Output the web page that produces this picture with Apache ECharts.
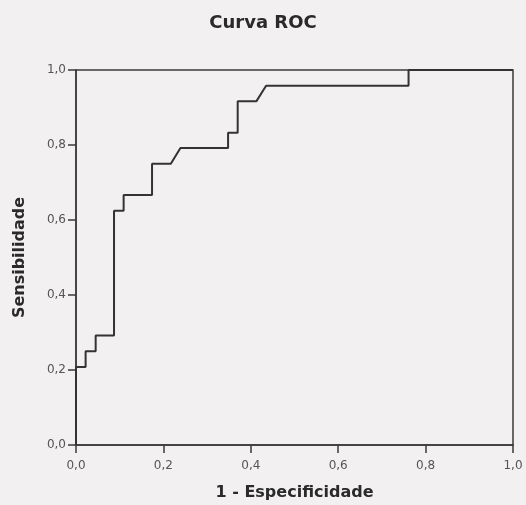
<!DOCTYPE html>
<html>
<head>
<meta charset="utf-8">
<script src="https://cdn.jsdelivr.net/npm/echarts@6/dist/echarts.min.js"></script>
<style>
html,body{margin:0;padding:0;background:#f3f0f1;}
#c{width:526px;height:505px;}
</style>
</head>
<body>
<div id="c"></div>
<script>
const titleText = 'Curva ROC';
const xName = '1 - Especificidade';
const yName = 'Sensibilidade';
const tickValues = [0, 0.2, 0.4, 0.6, 0.8, 1.0];
// ROC curve vertices (1 - specificity, sensitivity)
const fpr = [0, 0, 0.022, 0.022, 0.045, 0.045, 0.087, 0.087, 0.109, 0.109, 0.174, 0.174, 0.217, 0.239, 0.348, 0.348, 0.370, 0.370, 0.413, 0.435, 0.761, 0.761, 1.0];
const tpr = [0, 0.208, 0.208, 0.250, 0.250, 0.292, 0.292, 0.625, 0.625, 0.667, 0.667, 0.750, 0.750, 0.792, 0.792, 0.833, 0.833, 0.917, 0.917, 0.958, 0.958, 1.0, 1.0];

const data = fpr.map((x, i) => [x, tpr[i]]);
const fmt = v => v.toFixed(1).replace('.', ',');
const font = 'DejaVu Sans';

const chart = echarts.init(document.getElementById('c'));
chart.setOption({
  backgroundColor: '#f3f0f1',
  animation: false,
  title: {
    text: titleText,
    left: 'center',
    top: 9,
    textStyle: { fontFamily: font, fontSize: 18, fontWeight: 'bold', color: '#2a2a2a' }
  },
  grid: {
    left: 76, right: 13, top: 70, bottom: 60,
    outerBoundsMode: 'none',
    containLabel: false,
    show: true, borderColor: '#3a3a3a', borderWidth: 1.5, backgroundColor: 'transparent'
  },
  xAxis: {
    type: 'value', min: 0, max: 1, interval: 0.2,
    name: xName, nameLocation: 'middle', nameGap: 40,
    nameTextStyle: { fontFamily: font, fontSize: 16, fontWeight: 'bold', color: '#2a2a2a' },
    axisLine: { show: true, lineStyle: { color: '#3a3a3a', width: 1.5 } },
    axisTick: { show: true, length: 8, lineStyle: { color: '#3a3a3a', width: 1.5 } },
    axisLabel: { fontFamily: font, fontSize: 12, color: '#555', margin: 15, formatter: fmt },
    splitLine: { show: false }
  },
  yAxis: {
    type: 'value', min: 0, max: 1, interval: 0.2,
    name: yName, nameLocation: 'middle', nameGap: 48,
    nameTextStyle: { fontFamily: font, fontSize: 16, fontWeight: 'bold', color: '#2a2a2a' },
    axisLine: { show: true, lineStyle: { color: '#3a3a3a', width: 1.5 } },
    axisTick: { show: true, length: 8, lineStyle: { color: '#3a3a3a', width: 1.5 } },
    axisLabel: { fontFamily: font, fontSize: 12, color: '#555', margin: 10, formatter: fmt },
    splitLine: { show: false }
  },
  series: [{
    type: 'line',
    data: data,
    showSymbol: false,
    lineStyle: { color: '#333', width: 2 },
    silent: true
  }]
});
</script>
</body>
</html>
